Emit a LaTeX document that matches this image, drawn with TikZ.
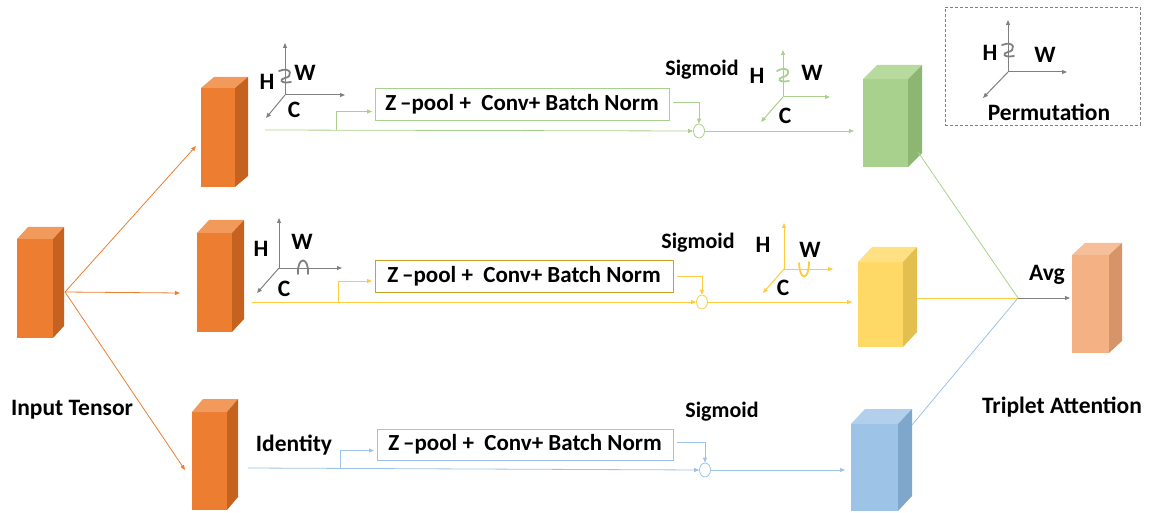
\documentclass[tikz,border=0pt]{standalone}
\usepackage{fontspec}
\setmainfont{Carlito}
\usetikzlibrary{calc,arrows.meta,shapes.geometric}

\definecolor{orF}{HTML}{ED7D31}\definecolor{orS}{HTML}{C5621F}\definecolor{orT}{HTML}{F19A5C}
\definecolor{grF}{HTML}{A9D18E}\definecolor{grS}{HTML}{8DB673}\definecolor{grT}{HTML}{B7DA9F}
\definecolor{yeF}{HTML}{FFD966}\definecolor{yeS}{HTML}{E3BF50}\definecolor{yeT}{HTML}{FFE083}
\definecolor{blF}{HTML}{9DC3E6}\definecolor{blS}{HTML}{7FA6CB}\definecolor{blT}{HTML}{B2D0EC}
\definecolor{saF}{HTML}{F4B183}\definecolor{saS}{HTML}{D69468}\definecolor{saT}{HTML}{F6BF99}
\definecolor{grL}{HTML}{A9D18E}\definecolor{yeL}{HTML}{FFCC40}\definecolor{blL}{HTML}{9DC3E6}
\definecolor{yeB}{HTML}{C9A227}\definecolor{axis}{HTML}{808080}

% front face of a box; top and right faces added by \cubefaces
\tikzset{
  front/.style={draw=none,inner sep=0pt,outer sep=0pt,rectangle},
  tip/.style={-{Triangle[length=5pt,width=4pt]}},
  link/.style={line width=0.8pt},
  opbox/.style={draw,line width=0.8pt,inner sep=0pt,outer sep=0pt,minimum height=32pt,
    font=\fontsize{23}{26}\selectfont\bfseries},
  mul/.style={ellipse,draw,fill=white,line width=0.8pt,minimum width=11pt,minimum height=14pt,inner sep=0pt},
  lbl/.style={font=\fontsize{23.5}{26}\selectfont\bfseries,inner sep=0pt},
  sig/.style={font=\fontsize{22}{26}\selectfont\bfseries,inner sep=0pt},
  ax/.style={axis,line width=1pt,-{Triangle[length=5pt,width=4pt]}},
  curl/.style={line width=1.8pt,line cap=round},
}
\newcommand\cubefaces[5]{%
  \fill[#4] (#1.north west) -- ++(#2,#3) -- ($(#1.north east)+(#2,#3)$) -- (#1.north east) -- cycle;
  \fill[#5] (#1.north east) -- ++(#2,#3) -- ($(#1.south east)+(#2,#3)$) -- (#1.south east) -- cycle;}

\begin{document}
\begin{tikzpicture}[x=1pt,y=-1pt]
\useasboundingbox (0,0) rectangle (1154,513);

% ---- tensors ----
\node[front,fill=orF,minimum width=36pt,minimum height=99pt] (in) at (35,288.5) {};
\cubefaces{in}{11}{-12}{orT}{orS}
\node[front,fill=orF,minimum width=34pt,minimum height=99pt] (b1) at (218,137.5) {};
\cubefaces{b1}{13}{-11}{orT}{orS}
\node[front,fill=orF,minimum width=35pt,minimum height=99pt] (b2) at (214.5,282.5) {};
\cubefaces{b2}{12}{-13}{orT}{orS}
\node[front,fill=orF,minimum width=35pt,minimum height=98pt] (b3) at (209.5,461) {};
\cubefaces{b3}{11}{-13}{orT}{orS}
\node[front,fill=grF,minimum width=45pt,minimum height=88pt] (og) at (885.5,123) {};
\cubefaces{og}{14}{-14}{grT}{grS}
\node[front,fill=yeF,minimum width=45pt,minimum height=85pt] (oy) at (880.5,304.5) {};
\cubefaces{oy}{14}{-15}{yeT}{yeS}
\node[front,fill=blF,minimum width=47pt,minimum height=87pt] (ob) at (874.5,467.5) {};
\cubefaces{ob}{14}{-15}{blT}{blS}
\node[front,fill=saF,minimum width=37pt,minimum height=98pt] (out) at (1090.5,304) {};
\cubefaces{out}{13}{-12}{saT}{saS}

\node[lbl] (inlbl) at (72,410) {Input Tensor};
\node[lbl] (talbl) at (1062,407) {Triplet Attention};

% ---- split of the input ----
\coordinate (src) at (65,292);
\coordinate (to1) at (196,146);
\coordinate (to2) at (180,293);
\coordinate (to3) at (185,470);
\draw[orF,link,tip] (src) -- (to1);
\draw[orF,link,tip] (src) -- (to2);
\draw[orF,link,tip] (src) -- (to3);

% ---- branch 1 (green) ----
\node[opbox,draw=grL,minimum width=294pt] (gbox) at (522,104.5) {Z\,--pool +\ \ Conv+ Batch Norm};
\node[mul,draw=grL] (gmul) at (699,131) {};
\coordinate (gstart) at (265,130);
\coordinate (gsplit) at (336,130);
\draw[grL,link,tip] (gstart) -- (gmul.west);
\draw[grL,link,tip] (gsplit) |- ($(gbox.west)+(-3,7)$);
\draw[grL,link,tip] ($(gbox.east)+(4,-2)$) -| (gmul.north);
\draw[grL,link,tip,shorten >=9pt] (gmul.east) -- (gmul.east -| og.west);
\node[sig] (gsig) at (702,70) {Sigmoid};

% ---- branch 2 (yellow) ----
\node[opbox,draw=yeB,minimum width=298pt] (ybox) at (524,276) {Z\,--pool +\ \ Conv+ Batch Norm};
\node[mul,draw=yeL] (ymul) at (702,302) {};
\coordinate (ystart) at (252,302);
\coordinate (ysplit) at (338,302);
\draw[yeL,link,tip] (ystart) -- (ymul.west);
\draw[yeL,link,tip] (ysplit) |- ($(ybox.west)+(-3,5)$);
\draw[yeL,link,tip] ($(ybox.east)+(4,0)$) -| (ymul.north);
\draw[yeL,link,tip,shorten >=6pt] (ymul.east) -- (ymul.east -| oy.west);
\node[sig] (ysig) at (698,243) {Sigmoid};

% ---- branch 3 (blue) ----
\node[opbox,draw=blL,minimum width=296pt,minimum height=31pt] (bbox) at (525,444.5) {Z\,--pool +\ \ Conv+ Batch Norm};
\node[mul,draw=blL] (bmul) at (705,470) {};
\coordinate (bstart) at (248,468);
\coordinate (bsplit) at (340,468);
\draw[blL,link,tip] (bstart) -- (bmul.west);
\draw[blL,link,tip] (bsplit) |- ($(bbox.west)+(-3,6)$);
\draw[blL,link,tip] ($(bbox.east)+(4,-2)$) -| (bmul.north);
\draw[blL,link,tip,shorten >=6pt] (bmul.east) -- (bmul.east -| ob.west);
\node[sig] (bsig) at (722,412) {Sigmoid};
\node[lbl] (ident) at (294,445) {Identity};

% ---- averaging ----
\coordinate (avg) at (1018,298);
\coordinate (gtail) at (918,152);
\coordinate (ytail) at (917,298);
\coordinate (btail) at (912,425);
\draw[grL,link] (gtail) -- (avg);
\draw[yeL,link] (ytail) -- (avg);
\draw[blL,link] (btail) -- (avg);
\draw[axis,link,tip,shorten >=2pt] (avg) -- (avg -| out.west);
\node[lbl] (avglbl) at (1047,275) {Avg};

% ---- axes, branch 1 ----
\coordinate (a1) at (285,95);
\draw[ax] (a1) -- ++(0,-52);
\draw[ax] (a1) -- ++(60,0);
\draw[ax] (a1) -- ++(-19,23);
\draw[axis,curl] (279,71) .. controls (292,66) and (293,77) .. (285,78) .. controls (279,79) and (280,84) .. (291,82);
\node[lbl] (a1h) at (267,82) {H};
\node[lbl] (a1w) at (305,73) {W};
\node[lbl] (a1c) at (294,110) {C};

% ---- axes, branch 2 ----
\coordinate (a2) at (279,268);
\draw[ax] (a2) -- ++(0,-50);
\draw[ax] (a2) -- ++(63,0);
\draw[ax] (a2) -- ++(-22,25);
\draw[axis,curl] (298,274) .. controls (297,256) and (309,256) .. (308,274);
\node[lbl] (a2h) at (261,249) {H};
\node[lbl] (a2w) at (302,242) {W};
\node[lbl] (a2c) at (284,289) {C};

% ---- axes after the green gate ----
\coordinate (a3) at (783,97);
\draw[ax,draw=grL,fill=grL] (a3) -- ++(0,-47);
\draw[ax,draw=grL,fill=grL] (a3) -- ++(47,0);
\draw[ax,draw=grL,fill=grL] (a3) -- ++(-22,25);
\draw[grL,curl] (777,71) .. controls (790,64) and (791,76) .. (783,77) .. controls (777,78) and (778,83) .. (789,81);
\node[lbl] (a3h) at (757,76) {H};
\node[lbl] (a3w) at (812,73) {W};
\node[lbl] (a3c) at (785,116) {C};

% ---- axes after the yellow gate ----
\coordinate (a4) at (784,269);
\draw[ax,draw=yeL,fill=yeL] (a4) -- ++(0,-46);
\draw[ax,draw=yeL,fill=yeL] (a4) -- ++(49,0);
\draw[ax,draw=yeL,fill=yeL] (a4) -- ++(-21,24);
\draw[yeL,curl] (799,263) .. controls (800,282) and (809,280) .. (809,262);
\node[lbl] (a4h) at (763,245) {H};
\node[lbl] (a4w) at (810,250) {W};
\node[lbl] (a4c) at (783,288) {C};

% ---- legend ----
\node[draw=axis,densely dashed,line width=0.8pt,minimum width=195pt,minimum height=118pt,inner sep=0pt] (legend) at (1042.5,66) {};
\coordinate (a5) at (1008,72);
\draw[ax] (a5) -- ++(0,-52);
\draw[ax] (a5) -- ++(59,0);
\draw[ax] (a5) -- ++(-25,26);
\draw[axis,curl] (1002,45) .. controls (1015,40) and (1016,51) .. (1008,52) .. controls (1002,53) and (1003,58) .. (1014,56);
\node[lbl] (a5h) at (990,53) {H};
\node[lbl] (a5w) at (1045,55) {W};
\node[lbl] (perm) at (1049,112) {Permutation};
\end{tikzpicture}
\end{document}
